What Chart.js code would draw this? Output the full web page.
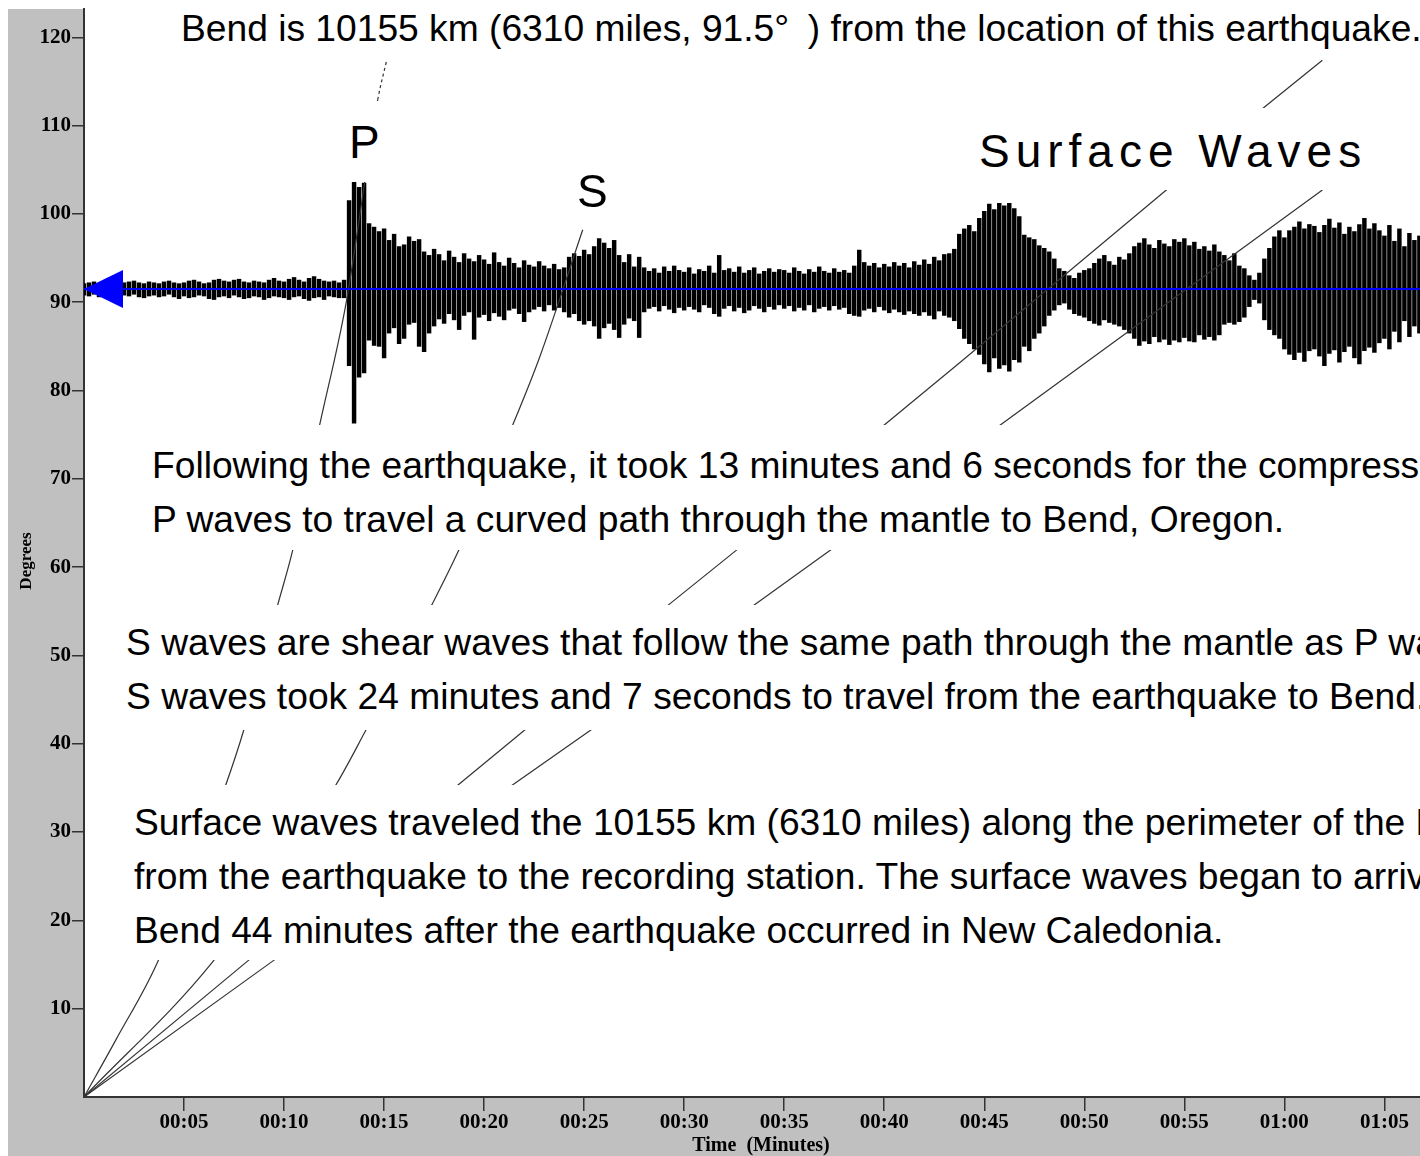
<!DOCTYPE html>
<html>
<head>
<meta charset="utf-8">
<script src="https://cdn.jsdelivr.net/npm/chart.js@4.4.1/dist/chart.umd.min.js"></script>
<style>
  html, body { margin: 0; padding: 0; background: #fff; overflow: hidden; }
  #wrap { position: relative; width: 1420px; height: 1156px; overflow: hidden; }
  #chart { position: absolute; left: 0; top: 0; }
  .box { position: absolute; background: #fff; }
  .txt { position: absolute; font-family: "Liberation Sans", Arial, sans-serif; font-size: 37.2px;
         line-height: 54px; white-space: nowrap; color: #000; }
  .lbl { font-size: 46px; line-height: 54px; }
</style>
</head>
<body>
<div id="wrap">
  <canvas id="chart" width="1420" height="1156"></canvas>

  <!-- white boxes behind the notes hide the travel time curves -->
  <div class="box" style="left:86px;top:0;width:1334px;height:60px"></div>
  <div class="box" style="left:335px;top:101px;width:60px;height:81px"></div>
  <div class="box" style="left:965px;top:108px;width:455px;height:82px"></div>
  <div class="box" style="left:86px;top:425px;width:1334px;height:125px"></div>
  <div class="box" style="left:86px;top:605px;width:1334px;height:125px"></div>
  <div class="box" style="left:86px;top:785px;width:1334px;height:175px"></div>

  <div class="txt" style="left:181px;top:1px">Bend is 10155 km (6310 miles, 91.5°&ensp;) from the location of this earthquake.</div>
  <div class="txt lbl" style="left:349px;top:115px">P</div>
  <div class="txt lbl" style="left:577px;top:164px">S</div>
  <div class="txt lbl" style="left:979px;top:124px;letter-spacing:6px">Surface Waves</div>

  <div class="txt" style="left:152px;top:438px">Following the earthquake, it took 13 minutes and 6 seconds for the compressional<br>P waves to travel a curved path through the mantle to Bend, Oregon.</div>
  <div class="txt" style="left:126px;top:615px">S waves are shear waves that follow the same path through the mantle as P waves.<br>S waves took 24 minutes and 7 seconds to travel from the earthquake to Bend.</div>
  <div class="txt" style="left:134px;top:795px">Surface waves traveled the 10155 km (6310 miles) along the perimeter of the Earth<br>from the earthquake to the recording station. The surface waves began to arrive in<br>Bend 44 minutes after the earthquake occurred in New Caledonia.</div>
</div>

<script>
// seismogram envelope, one sample every 0.25 min, degrees above / below the trace line
const sampleStep = 0.25
const baseDeg = 91.5
const upAmp = [
  0.6,0.7,0.8,0.6,0.7,0.9,0.8,0.6,0.7,0.8,0.9,0.7,0.6,0.8,0.7,0.6,0.8,0.9,0.7,0.6,
  0.7,0.9,1.0,0.8,0.6,0.7,1.0,1.1,0.9,0.8,1.0,1.1,0.8,0.7,0.9,0.8,0.7,1.0,1.2,0.9,
  0.8,1.1,1.3,1.0,0.8,1.2,1.4,1.1,0.9,0.8,0.9,0.7,1.0,10.0,12.2,11.5,12.0,7.4,7.0,6.5,
  6.8,5.5,6.2,4.8,5.0,5.9,5.4,5.6,4.2,3.8,4.5,3.9,3.2,4.3,3.6,3.0,4.0,3.4,3.1,3.8,
  3.3,2.8,4.1,3.0,2.6,3.5,2.9,2.4,3.2,2.7,2.5,3.1,2.6,2.3,2.8,2.2,2.4,3.6,4.0,3.7,
  4.4,3.9,4.8,5.7,5.2,4.6,5.5,3.8,3.0,3.9,2.5,3.6,2.4,2.0,2.3,1.8,2.5,2.0,2.6,2.1,
  1.9,2.4,1.7,2.2,2.0,2.6,1.8,3.8,2.1,2.3,1.9,2.5,1.8,2.1,2.4,1.7,2.0,2.3,1.9,2.2,
  2.1,1.8,2.4,2.0,1.7,2.2,1.9,2.5,2.0,1.8,2.3,1.9,2.1,1.8,2.6,4.4,3.0,2.6,2.9,2.4,
  2.8,2.5,3.0,2.6,2.9,2.4,3.1,2.7,3.3,2.8,3.6,3.2,3.9,4.0,4.5,6.2,6.8,7.2,6.5,8.0,
  8.8,9.6,9.0,9.7,9.4,9.7,9.1,8.2,6.1,5.8,5.6,4.9,4.6,4.2,3.4,2.3,2.0,1.5,1.2,1.8,
  2.1,2.3,2.9,3.4,3.8,3.1,2.7,3.6,3.3,4.0,4.8,5.2,5.7,5.0,4.6,5.5,5.1,4.8,5.6,5.3,
  5.7,4.9,5.3,4.5,4.8,4.3,5.0,4.2,3.8,3.2,4.0,2.6,2.3,1.5,1.0,1.8,3.4,4.6,5.9,6.6,
  5.8,6.6,7.0,7.6,6.8,7.3,7.1,6.4,7.2,7.9,6.9,7.5,6.2,7.0,6.5,7.3,8.0,6.8,7.4,6.6,
  6.0,7.2,5.4,6.8,4.8,6.3,5.5,6.0
]
const downAmp = [
  0.7,0.8,0.6,0.9,0.8,0.7,0.9,1.0,0.7,0.8,0.6,0.9,1.0,0.8,0.7,0.9,0.8,0.6,0.9,1.1,
  0.8,1.0,0.9,0.7,0.8,1.1,1.2,0.9,0.8,1.0,0.7,0.9,1.1,1.0,0.8,0.9,1.2,1.0,0.8,0.9,
  1.0,1.2,0.9,0.8,1.1,1.3,1.0,0.9,1.2,0.8,0.9,1.0,1.0,8.7,15.2,10.0,9.5,5.8,6.4,6.5,
  7.8,5.0,4.4,6.2,5.6,4.0,3.8,6.5,7.1,5.0,4.2,3.4,3.9,2.8,3.5,4.6,3.0,2.6,5.7,3.2,
  2.9,3.6,2.7,3.1,3.5,2.4,2.2,2.8,3.7,2.6,2.3,2.0,2.5,1.8,2.4,2.1,2.6,3.2,2.8,3.6,
  4.0,3.6,4.2,5.6,4.4,3.9,4.6,5.5,4.0,3.3,3.6,5.5,2.6,2.2,2.0,2.5,1.9,2.3,2.7,2.1,
  2.4,2.0,2.3,2.6,1.8,2.1,2.8,3.1,2.2,1.9,2.5,2.1,2.7,2.4,1.9,2.2,2.6,2.0,2.3,1.8,
  2.2,1.9,2.5,2.1,2.4,1.8,2.6,2.2,2.0,2.4,1.9,2.3,2.1,2.8,3.0,3.1,2.4,2.2,2.6,2.0,
  2.4,2.7,2.3,2.6,2.9,2.5,2.8,3.0,2.6,3.0,3.4,2.5,3.0,3.2,3.6,4.5,5.6,6.2,6.8,7.4,
  8.5,9.4,7.8,9.0,8.6,9.3,8.0,8.3,6.5,7.0,5.6,5.0,4.2,3.0,2.4,1.8,1.6,2.3,2.8,3.0,
  3.2,3.6,3.9,4.1,3.5,3.8,4.0,4.2,4.6,5.0,5.6,6.4,5.9,6.2,5.4,6.0,5.7,6.3,5.8,6.0,
  5.5,5.9,6.0,5.2,5.7,5.4,5.8,5.2,4.0,3.8,4.0,3.7,3.2,2.0,1.2,1.6,3.5,4.6,5.2,5.6,
  6.8,7.4,8.0,7.2,8.2,7.0,6.8,7.6,8.7,7.3,6.9,8.3,7.1,6.5,7.8,8.5,7.0,6.6,7.2,6.1,
  5.6,6.8,4.8,6.0,3.6,5.4,4.2,5.0
]

// travel time curves: minutes after the quake vs distance in degrees
const pTime = [0, 1.6, 3.68, 7.08, 7.98, 9.68, 10.43, 11.78, 13.1, 14.68, 15.13]
const pDeg  = [0, 6.5, 15.3, 35.3, 41.5, 55.7, 61.9, 76.1, 89.9, 112.9, 117.4]
const sTime = [0, 6.43, 12.58, 14.08, 17.38, 18.73, 21.43, 22.78, 24.93]
const sDeg  = [0, 15.3, 35.3, 41.5, 55.7, 61.9, 76.1, 83.8, 98.2]
const loveTime = [0, 8.13, 18.68, 22.0, 29.2, 32.6, 40.0, 43.8, 54.1, 58.9, 61.9]
const loveDeg  = [0, 15.3, 35.3, 41.5, 55.7, 61.9, 76.1, 83.2, 102.7, 111.9, 117.4]
const rayTime = [0, 9.38, 21.4, 25.3, 33.5, 37.3, 45.8, 61.9]
const rayDeg  = [0, 15.3, 35.3, 41.5, 55.7, 61.9, 76.1, 102.7]

const xMax = 66.78
const yMax = 123.2

const seismo = upAmp.map((u, i) => ({x: i * sampleStep, y: [baseDeg - downAmp[i], baseDeg + u]}))
const toPts = (ts, ds) => ts.map((t, i) => ({x: t, y: ds[i]}))

function hhmm(v) {
  const h = Math.floor(v / 60), m = Math.round(v % 60)
  return String(h).padStart(2, '0') + ':' + String(m).padStart(2, '0')
}

const serif = {family: '"Liberation Serif", "Times New Roman", serif', size: 21, weight: 'bold'}
const tickColor = c => c.tick && c.tick.value === 0 ? 'rgba(0,0,0,0)' : '#333'

const panelPlugin = {
  id: 'panel',
  beforeDraw(chart) {
    const c = chart.ctx, a = chart.chartArea
    c.save()
    c.fillStyle = '#fff'
    c.fillRect(0, 0, chart.width, chart.height)
    c.fillStyle = '#c0c0c0'
    c.fillRect(8, 9, a.left - 8, chart.height - 9)
    c.fillRect(8, a.bottom, chart.width - 8, chart.height - a.bottom)
    c.restore()
  },
  afterDatasetsDraw(chart) {
    // blue arrow at the start of the trace
    const c = chart.ctx
    const x0 = chart.scales.x.getPixelForValue(0)
    const y0 = chart.scales.y.getPixelForValue(baseDeg)
    c.save()
    c.fillStyle = '#0000ff'
    c.beginPath()
    c.moveTo(x0, y0)
    c.lineTo(x0 + 39, y0 - 19)
    c.lineTo(x0 + 39, y0 + 19)
    c.closePath()
    c.fill()
    c.restore()
  },
  afterDraw(chart) {
    const c = chart.ctx
    c.save()
    c.fillStyle = '#000'
    c.textAlign = 'center'
    c.textBaseline = 'middle'
    c.font = 'bold 20px "Liberation Serif", "Times New Roman", serif'
    c.fillText('Time  (Minutes)', 761, 1146)
    c.font = 'bold 17px "Liberation Serif", "Times New Roman", serif'
    c.translate(27, 561)
    c.rotate(-Math.PI / 2)
    c.fillText('Degrees', 0, 0)
    c.restore()
  }
}

const curve = (label, ts, ds, extra) => Object.assign({
  type: 'line', label: label, data: toPts(ts, ds),
  borderColor: '#333', borderWidth: 1.2, pointRadius: 0, order: 1
}, extra || {})

const ctx = document.getElementById('chart')

new Chart(ctx, {
  type: 'bar',
  data: {
    datasets: [
      {type: 'line', label: 'trace line', data: [{x: 0, y: baseDeg}, {x: xMax, y: baseDeg}],
        borderColor: '#0000ff', borderWidth: 2, pointRadius: 0, order: 0},
      curve('P', pTime, pDeg, {cubicInterpolationMode: 'monotone',
        segment: {borderDash: s => s.p0.parsed.y >= 112 ? [3, 3] : undefined}}),
      curve('S', sTime, sDeg, {cubicInterpolationMode: 'monotone'}),
      curve('Love', loveTime, loveDeg),
      curve('Rayleigh', rayTime, rayDeg),
      {type: 'bar', label: 'Bend seismogram', data: seismo, backgroundColor: '#000',
        barThickness: 3.8, grouped: false, order: 5}
    ]
  },
  options: {
    responsive: false,
    animation: false,
    layout: {padding: {top: 9, left: 0, right: 0, bottom: 0}},
    plugins: {legend: {display: false}, tooltip: {enabled: false}},
    scales: {
      x: {
        type: 'linear', min: 0, max: xMax, offset: false,
        afterFit: s => { s.height = 59; s.paddingLeft = 0; s.paddingRight = 0 },
        border: {color: '#333', width: 2},
        grid: {offset: false, drawOnChartArea: false, color: tickColor, lineWidth: 1.5, tickLength: 14},
        ticks: {stepSize: 5, includeBounds: false, autoSkip: false, maxRotation: 0, padding: -1,
          color: '#000', font: serif, callback: v => v === 0 ? '' : hhmm(v)}
      },
      y: {
        type: 'linear', min: 0, max: yMax,
        afterFit: s => { s.width = 84; s.paddingTop = 0; s.paddingBottom = 0 },
        border: {color: '#333', width: 2},
        grid: {drawOnChartArea: false, color: tickColor, lineWidth: 1.5, tickLength: 12},
        ticks: {stepSize: 10, includeBounds: false, padding: 1, color: '#000', font: serif,
          callback: v => v === 0 ? '' : v}
      }
    }
  },
  plugins: [panelPlugin]
})
</script>
</body>
</html>
